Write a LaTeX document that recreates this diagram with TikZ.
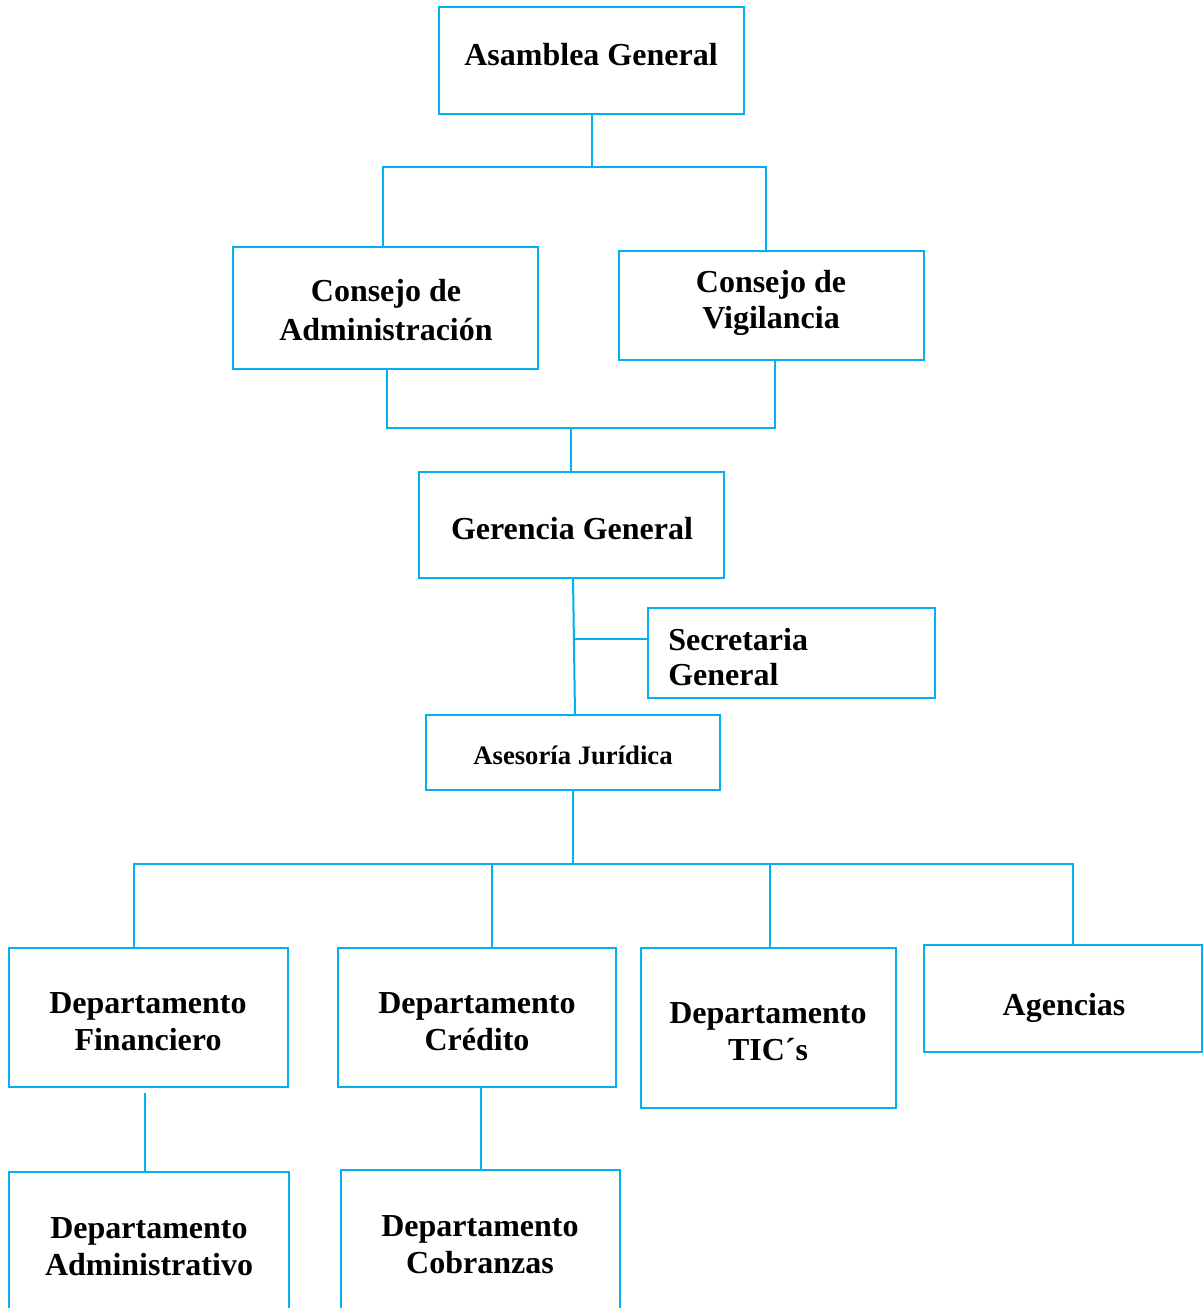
\documentclass[tikz,border=0pt]{standalone}
\usepackage{fontspec}
\setmainfont{Liberation Serif}
\usetikzlibrary{fit}
\definecolor{cy}{HTML}{00B0F0}
\begin{document}
\begin{tikzpicture}[x=0.75pt,y=-0.75pt,
  box/.style={draw=cy, line width=1.5pt, inner sep=0pt, rectangle},
  conn/.style={draw=cy, line width=1.5pt},
  txt/.style={font=\bfseries\fontsize{24}{28.5}\selectfont, anchor=base, inner sep=0pt},
  stxt/.style={font=\bfseries\fontsize{20}{24}\selectfont, anchor=base, inner sep=0pt}]
\useasboundingbox (0,0) rectangle (1203,1308);
\clip (0,0) rectangle (1203,1308);
\fill[white] (0,0) rectangle (1203,1308);

% boxes
\node[box, fit={(439,7) (744,114)}] (ag) {};
\node[box, fit={(233,247) (538,369)}] (ca) {};
\node[box, fit={(619,251) (924,360)}] (cv) {};
\node[box, fit={(419,472) (724,578)}] (gg) {};
\node[box, fit={(648,608) (935,698)}] (sg) {};
\node[box, fit={(426,715) (720,790)}] (aj) {};
\node[box, fit={(9,948) (288,1087)}] (df) {};
\node[box, fit={(338,948) (616,1087)}] (dc) {};
\node[box, fit={(641,948) (896,1108)}] (dt) {};
\node[box, fit={(924,945) (1202,1052)}] (agn) {};
\node[box, fit={(9,1172) (289,1340)}] (da) {};
\node[box, fit={(341,1170) (620,1340)}] (dco) {};

% texts
\node[txt] (tag) at (591,66) {Asamblea General};
\node[txt] (tca1) at (386,302) {Consejo de};
\node[txt] (tca2) at (386,341) {Administración};
\node[txt] (tcv1) at (771,293) {Consejo de};
\node[txt] (tcv2) at (771,329) {Vigilancia};
\node[txt] (tgg) at (572,539) {Gerencia General};
\node[txt, anchor=base west] (tsg1) at (668,650) {Secretaria};
\node[txt, anchor=base west] (tsg2) at (668,685) {General};
\node[stxt] (taj) at (573,764) {Asesoría Jurídica};
\node[txt] (tdf1) at (148,1013) {Departamento};
\node[txt] (tdf2) at (148,1050) {Financiero};
\node[txt] (tdc1) at (477,1013) {Departamento};
\node[txt] (tdc2) at (477,1050) {Crédito};
\node[txt] (tdt1) at (768,1023) {Departamento};
\node[txt] (tdt2) at (768,1060) {TIC´s};
\node[txt] (tagn) at (1064,1015) {Agencias};
\node[txt] (tda1) at (149,1238) {Departamento};
\node[txt] (tda2) at (149,1275) {Administrativo};
\node[txt] (tdco1) at (480,1236) {Departamento};
\node[txt] (tdco2) at (480,1273) {Cobranzas};

% connectors
\coordinate (b1l) at (383,167);
\coordinate (b1r) at (766,167);
\draw[conn] (ag.south) -- (ag.south |- b1l);
\draw[conn] (ca.north -| b1l) -- (b1l) -- (b1r) -- (cv.north -| b1r);

\coordinate (b2l) at (387,428);
\coordinate (b2r) at (775,428);
\coordinate (b2m) at (571,428);
\draw[conn] (ca.south -| b2l) -- (b2l) -- (b2r) -- (cv.south -| b2r);
\draw[conn] (b2m) -- (gg.north -| b2m);

\coordinate (g1) at (573,578);
\coordinate (g2) at (575,715);
\coordinate (s1) at (574,639);
\draw[conn] (g1) -- (g2);
\draw[conn] (s1) -- (sg.west |- s1);

\coordinate (b3m) at (573,864);
\coordinate (b3l) at (134,864);
\coordinate (b3c) at (492,864);
\coordinate (b3t) at (770,864);
\coordinate (b3r) at (1073,864);
\draw[conn] (aj.south -| b3m) -- (b3m);
\draw[conn] (df.north -| b3l) -- (b3l) -- (b3r) -- (agn.north -| b3r);
\draw[conn] (b3c) -- (dc.north -| b3c);
\draw[conn] (b3t) -- (dt.north -| b3t);

\coordinate (f1) at (145,1093);
\draw[conn] (f1) -- (da.north -| f1);
\coordinate (c1) at (481,1087);
\draw[conn] (dc.south -| c1) -- (dco.north -| c1);
\end{tikzpicture}
\end{document}
